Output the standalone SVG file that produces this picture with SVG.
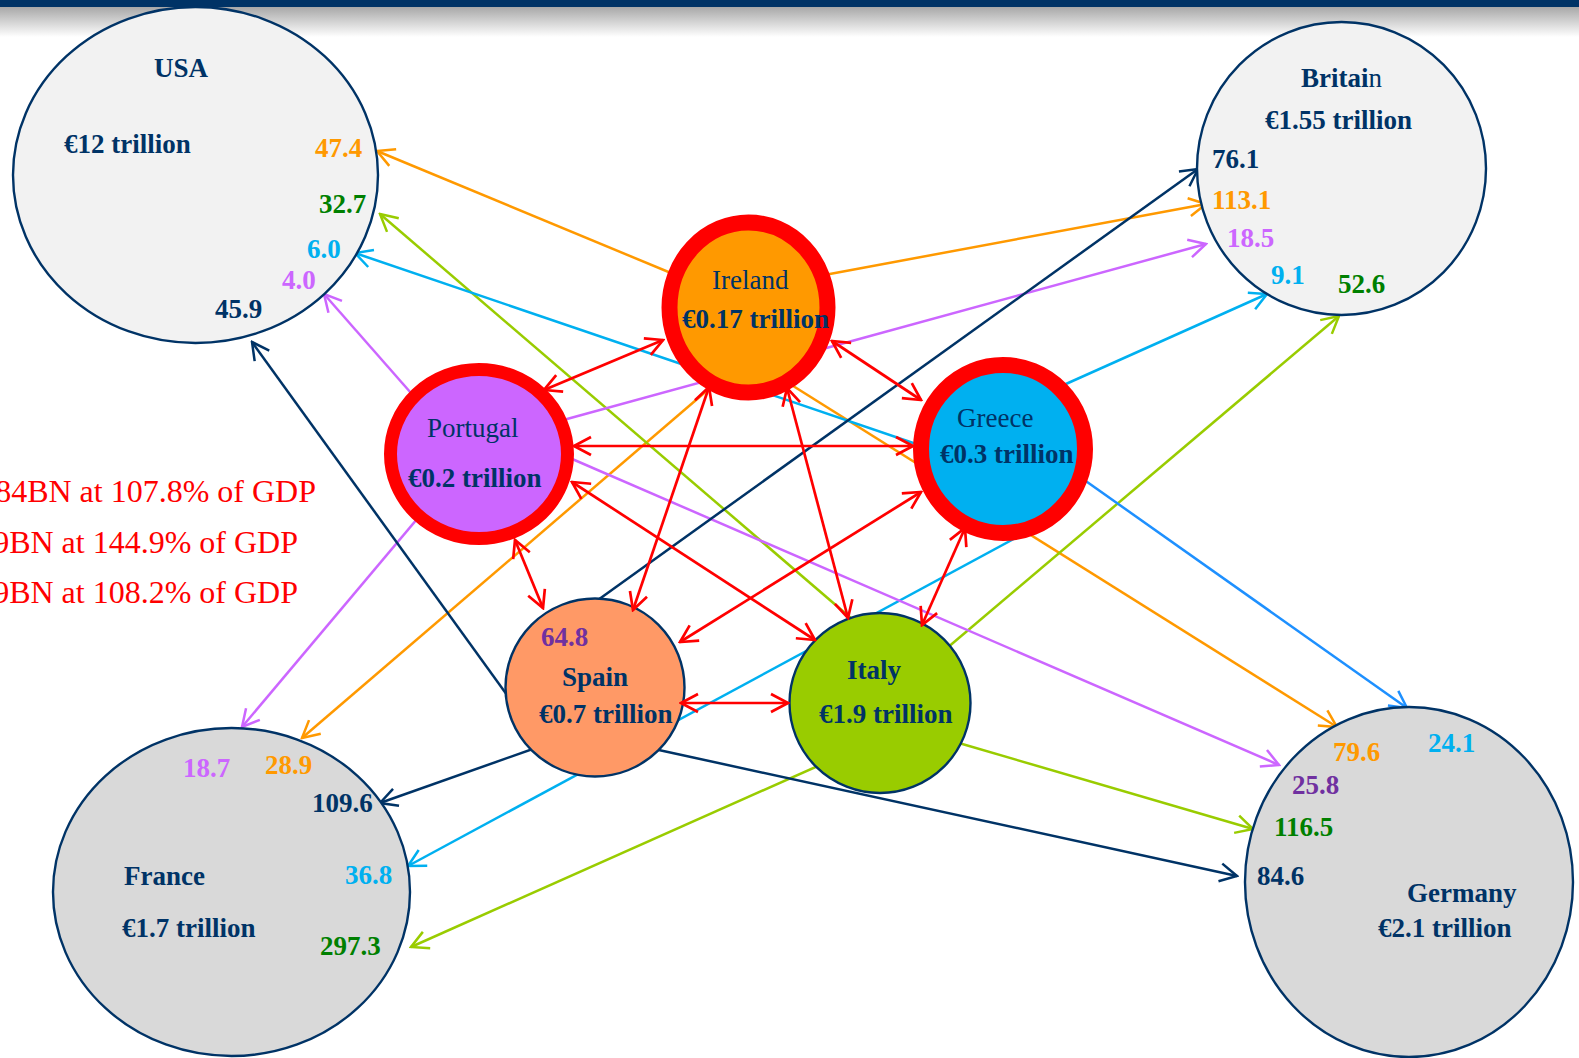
<svg xmlns="http://www.w3.org/2000/svg" width="1579" height="1058" viewBox="0 0 1579 1058">
<defs>
<linearGradient id="shade" x1="0" y1="0" x2="0" y2="1">
<stop offset="0" stop-color="#a8a8a8"/>
<stop offset="1" stop-color="#ffffff"/>
</linearGradient>
<marker id="m-or" viewBox="-20 -11 22 22" refX="0" refY="0" markerWidth="22" markerHeight="22" markerUnits="userSpaceOnUse" orient="auto-start-reverse"><path d="M-17,-9 L0,0 L-17,9" fill="none" stroke="#ff9900" stroke-width="2.5"/></marker>
<marker id="m-gr" viewBox="-20 -11 22 22" refX="0" refY="0" markerWidth="22" markerHeight="22" markerUnits="userSpaceOnUse" orient="auto-start-reverse"><path d="M-17,-9 L0,0 L-17,9" fill="none" stroke="#99cc00" stroke-width="2.5"/></marker>
<marker id="m-cy" viewBox="-20 -11 22 22" refX="0" refY="0" markerWidth="22" markerHeight="22" markerUnits="userSpaceOnUse" orient="auto-start-reverse"><path d="M-17,-9 L0,0 L-17,9" fill="none" stroke="#00b0f0" stroke-width="2.5"/></marker>
<marker id="m-db" viewBox="-20 -11 22 22" refX="0" refY="0" markerWidth="22" markerHeight="22" markerUnits="userSpaceOnUse" orient="auto-start-reverse"><path d="M-17,-9 L0,0 L-17,9" fill="none" stroke="#1e90ff" stroke-width="2.5"/></marker>
<marker id="m-pu" viewBox="-20 -11 22 22" refX="0" refY="0" markerWidth="22" markerHeight="22" markerUnits="userSpaceOnUse" orient="auto-start-reverse"><path d="M-17,-9 L0,0 L-17,9" fill="none" stroke="#cc66ff" stroke-width="2.5"/></marker>
<marker id="m-nv" viewBox="-20 -11 22 22" refX="0" refY="0" markerWidth="22" markerHeight="22" markerUnits="userSpaceOnUse" orient="auto-start-reverse"><path d="M-17,-9 L0,0 L-17,9" fill="none" stroke="#003366" stroke-width="2.5"/></marker>
<marker id="m-rd" viewBox="-20 -11 22 22" refX="0" refY="0" markerWidth="22" markerHeight="22" markerUnits="userSpaceOnUse" orient="auto-start-reverse"><path d="M-17,-9 L0,0 L-17,9" fill="none" stroke="#ff0000" stroke-width="2.7"/></marker>
</defs>
<style>
text { font-family: "Liberation Serif", "Times New Roman", serif; font-size: 27px; }
.b { font-weight: bold; }
.nv { fill: #003366; }
.or { fill: #ff9900; }
.gr { fill: #008000; }
.cy { fill: #00b0f0; }
.pu { fill: #cc66ff; }
.vi { fill: #7030a0; }
.red { fill: #ff0000; font-size: 32px; }
.c { fill: none; stroke-width: 2.5; }
.c-or { stroke: #ff9900; marker-end: url(#m-or); }
.c-gr { stroke: #99cc00; marker-end: url(#m-gr); }
.c-cy { stroke: #00b0f0; marker-end: url(#m-cy); }
.c-db { stroke: #1e90ff; marker-end: url(#m-db); }
.c-pu { stroke: #cc66ff; marker-end: url(#m-pu); }
.c-nv { stroke: #003366; marker-end: url(#m-nv); }
.c-rd { stroke: #ff0000; stroke-width: 2.7; marker-start: url(#m-rd); marker-end: url(#m-rd); }
.big { stroke: #003366; stroke-width: 2.4; }
.ring { stroke: #ff0000; }
</style>
<rect x="0" y="0" width="1579" height="1058" fill="#ffffff"/>
<rect x="0" y="7" width="1579" height="30" fill="url(#shade)"/>
<rect x="0" y="0" width="1579" height="7" fill="#003366"/>

<g id="connectors">
<line class="c c-or" x1="683" y1="278" x2="377" y2="151"/>
<line class="c c-or" x1="819" y1="276" x2="1206" y2="204"/>
<line class="c c-or" x1="782" y1="379" x2="1337" y2="727"/>
<line class="c c-or" x1="731" y1="370" x2="302" y2="738"/>
<line class="c c-gr" x1="859" y1="625" x2="380" y2="214"/>
<line class="c c-gr" x1="940" y1="654" x2="1339" y2="316"/>
<line class="c c-gr" x1="952" y1="741" x2="1253" y2="829"/>
<line class="c c-gr" x1="829" y1="761" x2="411" y2="947"/>
<line class="c c-cy" x1="928" y1="448" x2="355" y2="253"/>
<line class="c c-cy" x1="1048" y1="392" x2="1267" y2="294"/>
<line class="c c-db" x1="1073" y1="472" x2="1407" y2="708"/>
<line class="c c-cy" x1="1023" y1="534" x2="408" y2="866"/>
<line class="c c-pu" x1="418" y1="401" x2="324" y2="294"/>
<line class="c c-pu" x1="556" y1="422" x2="1206" y2="244"/>
<line class="c c-pu" x1="556" y1="452" x2="1279" y2="765"/>
<line class="c c-pu" x1="428" y1="506" x2="242" y2="727"/>
<line class="c c-nv" x1="512" y1="702" x2="252" y2="342"/>
<line class="c c-nv" x1="584" y1="610" x2="1198" y2="169"/>
<line class="c c-nv" x1="544" y1="745" x2="380" y2="803"/>
<line class="c c-nv" x1="645" y1="747" x2="1237" y2="876"/>
</g>

<g id="usa">
<ellipse class="big" cx="195.5" cy="175" rx="182.5" ry="168" fill="#f2f2f2"/>
<text class="b nv" x="154" y="77">USA</text>
<text class="b nv" x="64" y="153">€12 trillion</text>
<text class="b or" x="315" y="157">47.4</text>
<text class="b gr" x="319" y="213">32.7</text>
<text class="b cy" x="307" y="258">6.0</text>
<text class="b pu" x="282" y="289">4.0</text>
<text class="b nv" x="215" y="318">45.9</text>
</g>

<g id="britain">
<ellipse class="big" cx="1341.5" cy="168.5" rx="144.5" ry="146.5" fill="#f2f2f2"/>
<text class="nv" x="1301" y="87"><tspan class="b">Britai</tspan>n</text>
<text class="b nv" x="1265" y="129">€1.55 trillion</text>
<text class="b nv" x="1212" y="168">76.1</text>
<text class="b or" x="1212" y="209">113.1</text>
<text class="b pu" x="1227" y="247">18.5</text>
<text class="b cy" x="1271" y="284">9.1</text>
<text class="b gr" x="1338" y="293">52.6</text>
</g>

<g id="france">
<ellipse class="big" cx="231.5" cy="892" rx="178.5" ry="164" fill="#d9d9d9"/>
<text class="b pu" x="183" y="777">18.7</text>
<text class="b or" x="265" y="774">28.9</text>
<text class="b nv" x="312" y="812">109.6</text>
<text class="b nv" x="124" y="885">France</text>
<text class="b nv" x="122" y="937">€1.7 trillion</text>
<text class="b cy" x="345" y="884">36.8</text>
<text class="b gr" x="320" y="955">297.3</text>
</g>

<g id="germany">
<ellipse class="big" cx="1409" cy="882" rx="164" ry="175" fill="#d9d9d9"/>
<text class="b cy" x="1428" y="752">24.1</text>
<text class="b or" x="1333" y="761">79.6</text>
<text class="b vi" x="1292" y="794">25.8</text>
<text class="b gr" x="1274" y="836">116.5</text>
<text class="b nv" x="1257" y="885">84.6</text>
<text class="b nv" x="1407" y="902">Germany</text>
<text class="b nv" x="1378" y="937">€2.1 trillion</text>
</g>

<g id="ireland">
<ellipse class="ring" cx="748.5" cy="307.5" rx="79" ry="85" fill="#ff9900" stroke-width="16"/>
<text class="nv" x="712" y="289">Ireland</text>
<text class="b nv" x="682" y="328">€0.17 trillion</text>
</g>

<g id="greece">
<ellipse class="ring" cx="1003" cy="449" rx="82" ry="84" fill="#00b0f0" stroke-width="16"/>
<text class="nv" x="957" y="427">Greece</text>
<text class="b nv" x="940" y="463">€0.3 trillion</text>
</g>

<g id="portugal">
<ellipse class="ring" cx="479" cy="454" rx="88.5" ry="84.5" fill="#cc66ff" stroke-width="13"/>
<text class="nv" x="427" y="437">Portugal</text>
<text class="b nv" x="408" y="487">€0.2 trillion</text>
</g>

<g id="spain">
<ellipse class="big" cx="595" cy="687.5" rx="89.5" ry="89" fill="#ff9966"/>
<text class="b vi" x="541" y="646">64.8</text>
<text class="b nv" x="562" y="686">Spain</text>
<text class="b nv" x="539" y="723">€0.7 trillion</text>
</g>

<g id="italy">
<ellipse class="big" cx="880" cy="703" rx="90.5" ry="90" fill="#99cc00"/>
<text class="b nv" x="847" y="679">Italy</text>
<text class="b nv" x="819" y="723">€1.9 trillion</text>
</g>

<g id="red-links">
<line class="c c-rd" x1="663" y1="340" x2="544" y2="390"/>
<line class="c c-rd" x1="832" y1="341" x2="921" y2="400"/>
<line class="c c-rd" x1="574" y1="446" x2="913" y2="446"/>
<line class="c c-rd" x1="709" y1="387" x2="633" y2="610"/>
<line class="c c-rd" x1="787" y1="388" x2="848" y2="618"/>
<line class="c c-rd" x1="515" y1="540" x2="543" y2="608"/>
<line class="c c-rd" x1="572" y1="482" x2="815" y2="640"/>
<line class="c c-rd" x1="921" y1="492" x2="680" y2="642"/>
<line class="c c-rd" x1="965" y1="528" x2="922" y2="625"/>
<line class="c c-rd" x1="681" y1="703" x2="788" y2="703"/>
</g>

<g id="notes">
<text class="red" x="316" y="502" text-anchor="end">84BN at 107.8% of GDP</text>
<text class="red" x="298" y="553" text-anchor="end">9BN at 144.9% of GDP</text>
<text class="red" x="298" y="603" text-anchor="end">9BN at 108.2% of GDP</text>
</g>
</svg>
